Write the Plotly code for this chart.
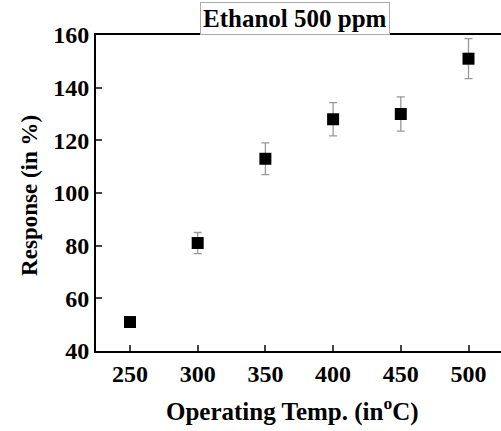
import plotly.graph_objects as go

temps = [250, 300, 350, 400, 450, 500]
response = [51, 81, 113, 128, 130, 151]
errors = [1.5, 4, 6, 6.3, 6.5, 7.6]
x_ticks = [250, 300, 350, 400, 450, 500]
y_ticks = [40, 60, 80, 100, 120, 140, 160]

font_family = "Liberation Serif"
bold = dict(family=font_family, weight="bold", color="black")

fig = go.Figure()
fig.add_trace(go.Scatter(
    x=temps, y=response, mode="markers",
    marker=dict(symbol="square", size=12, color="black", line=dict(width=0)),
    error_y=dict(type="data", array=errors, visible=True, color="#999999", thickness=1.3, width=4),
    showlegend=False,
))

fig.update_layout(
    width=501, height=431,
    margin=dict(l=96, r=0, t=35, b=80, autoexpand=False),
    paper_bgcolor="white", plot_bgcolor="white",
    font=dict(family=font_family, color="black"),
    xaxis=dict(
        range=[224.9, 524], tickvals=x_ticks, ticks="inside", ticklen=6, tickwidth=2,
        showline=True, linewidth=2, linecolor="black", mirror=True, showgrid=False, zeroline=False,
        automargin=False,
        tickfont=dict(size=24, **bold),
    ),
    yaxis=dict(
        range=[40, 160], tickvals=y_ticks, ticks="inside", ticklen=6, tickwidth=2,
        showline=True, linewidth=2, linecolor="black", showgrid=False, zeroline=False,
        automargin=False,
        tickfont=dict(size=24, **bold),
    ),
    annotations=[
        dict(text="Ethanol 500 ppm", xref="paper", yref="paper", x=0.491, y=1,
             xanchor="center", yanchor="bottom", showarrow=False,
             font=dict(size=25, **bold),
             bordercolor="#aaaaaa", borderwidth=1, borderpad=2, bgcolor="white"),
        dict(text="Operating Temp. (in<sup>o</sup>C)", xref="paper", yref="paper",
             x=0.485, y=-0.185, xanchor="center", yanchor="middle", showarrow=False,
             font=dict(size=25, **bold)),
        dict(text="Response (in %)", xref="paper", yref="paper", textangle=-90,
             x=-0.163, y=0.494, xanchor="center", yanchor="middle", showarrow=False,
             font=dict(size=23, **bold)),
    ],
)

fig.write_html("out.html", post_script="document.body.style.margin='0';",
               config={"displayModeBar": False})
